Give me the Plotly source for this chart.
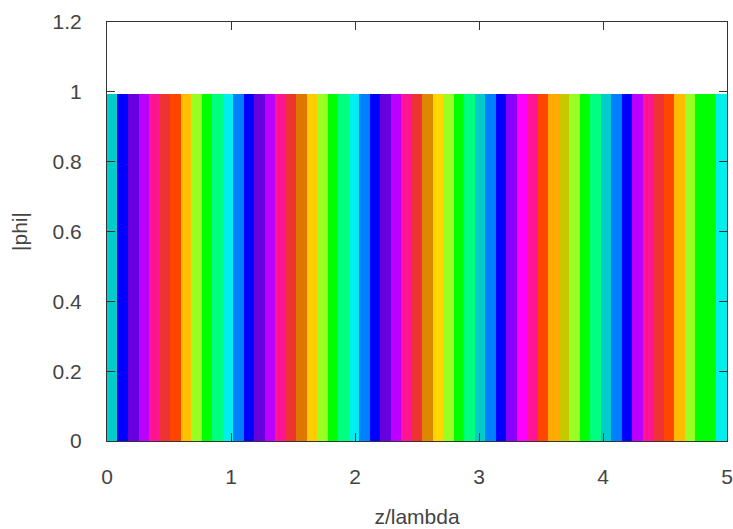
import plotly.graph_objects as go

# z/lambda positions (bar centres)
z = [0.042, 0.127, 0.212, 0.297, 0.381, 0.466, 0.551, 0.636, 0.720, 0.805,
     0.890, 0.975, 1.059, 1.144, 1.229, 1.314, 1.398, 1.483, 1.568, 1.653,
     1.737, 1.822, 1.907, 1.992, 2.076, 2.161, 2.246, 2.331, 2.415, 2.500,
     2.585, 2.669, 2.754, 2.839, 2.924, 3.008, 3.093, 3.178, 3.263, 3.347,
     3.432, 3.517, 3.602, 3.686, 3.771, 3.856, 3.941, 4.025, 4.110, 4.195,
     4.280, 4.364, 4.449, 4.534, 4.619, 4.703, 4.788, 4.873, 4.958]

# |phi| values
phi_abs = [0.995, 0.995, 0.995, 0.995, 0.995, 0.995, 0.995, 0.995, 0.995, 0.995,
           0.995, 0.995, 0.995, 0.995, 0.995, 0.995, 0.995, 0.995, 0.995, 0.995,
           0.995, 0.995, 0.995, 0.995, 0.995, 0.995, 0.995, 0.995, 0.995, 0.995,
           0.995, 0.995, 0.995, 0.995, 0.995, 0.995, 0.995, 0.995, 0.995, 0.995,
           0.995, 0.995, 0.995, 0.995, 0.995, 0.995, 0.995, 0.995, 0.995, 0.995,
           0.995, 0.995, 0.995, 0.995, 0.995, 0.995, 0.995, 0.995, 0.995]

# phase colour of each bar
phase_colors = [
    "#00CCCC", "#0000FF", "#6600DD", "#BB00FF", "#FF1493", "#EE3333", "#FF4500", "#FFC000", "#99FF22", "#00FF00",
    "#00FF80", "#00EEEE", "#0080FF", "#0000FF", "#6600DD", "#BB00FF", "#FF1493", "#EE3333", "#DD7700", "#FFCC00",
    "#99FF22", "#00FF00", "#00FF80", "#00EEEE", "#0080FF", "#0000FF", "#6600DD", "#BB00FF", "#FF1493", "#EE3333",
    "#DD8800", "#FFD700", "#99FF22", "#00FF00", "#00FF80", "#00CCCC", "#0080FF", "#0000FF", "#8800FF", "#FF00FF",
    "#FF1493", "#FF4500", "#FFAA00", "#C8C800", "#99FF22", "#00FF00", "#00FF80", "#00CCCC", "#0080FF", "#0000FF",
    "#BB00FF", "#FF1493", "#EE3333", "#FF4500", "#FFBB00", "#99FF22", "#00FF00", "#00FF00", "#00EEEE",
]

x_ticks = [0, 1, 2, 3, 4, 5]
y_ticks = [0, 0.2, 0.4, 0.6, 0.8, 1, 1.2]
y_tick_text = ["0", "0.2", "0.4", "0.6", "0.8", "1", "1.2"]

fig = go.Figure(go.Bar(
    x=z, y=phi_abs, width=0.0858,
    marker=dict(color=phase_colors, line=dict(width=0)),
    showlegend=False, hoverinfo="x+y",
))

axis_common = dict(
    showgrid=False, zeroline=False, showline=True, linecolor="#333333", linewidth=1,
    ticks="inside", ticklen=8, tickcolor="#333333", mirror="ticks",
    tickfont=dict(size=21, color="#444444"),
)

fig.update_layout(
    width=733, height=529,
    margin=dict(l=107, r=6, t=22, b=88, autoexpand=False),
    paper_bgcolor="white", plot_bgcolor="white",
    font=dict(family="Liberation Sans, Arial, sans-serif", size=21, color="#444444"),
    bargap=0,
    xaxis=dict(range=[0, 5], tickvals=x_ticks, ticklabelstandoff=17,
               title=dict(text="z/lambda", standoff=22, font=dict(size=21, color="#444444")),
               **axis_common),
    yaxis=dict(range=[0, 1.2], tickvals=y_ticks, ticktext=y_tick_text, ticklabelstandoff=20,
               title=dict(text="|phi|", standoff=19, font=dict(size=21, color="#444444")),
               **axis_common),
)

fig.write_html("out.html", config={"displayModeBar": False})

# remove the browser's default 8px body margin so the figure fills the window
with open("out.html", "r", encoding="utf-8") as f:
    html = f.read()
html = html.replace("<body>", '<body style="margin:0;overflow:hidden">', 1)
with open("out.html", "w", encoding="utf-8") as f:
    f.write(html)
